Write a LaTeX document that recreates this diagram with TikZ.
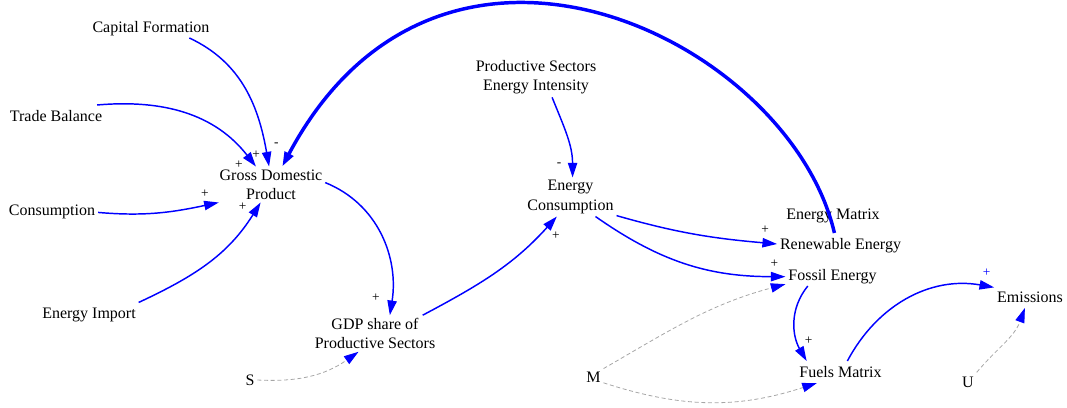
\documentclass[tikz,border=0pt]{standalone}
\usepackage{fontspec}
\setmainfont{Liberation Serif}
\usepackage{tikz}
\usetikzlibrary{arrows.meta}

\begin{document}
\begin{tikzpicture}[x=0.75pt, y=-0.75pt,
    var/.style={font=\fontsize{12}{14.5}\selectfont, inner sep=2pt, text height=10.5pt, text depth=1.6pt},
    mvar/.style={font=\fontsize{12}{14.5}\selectfont, inner sep=2pt, align=center},
    sign/.style={font=\fontsize{10}{12}\selectfont, inner sep=0pt},
    link/.style={draw=blue, line width=1.1pt, -{Triangle[length=11pt, width=7pt]}},
    loop/.style={link, line width=2.6pt},
    shadow/.style={draw=gray!70, line width=0.6pt, dash pattern=on 3pt off 2pt,
        -{Triangle[length=11pt, width=7pt, blue]}}]

    \useasboundingbox (0,0) rectangle (1067,407);

    % Economy side
    \node[var] (cap) at (151,27) {Capital Formation};
    \node[var] (trade) at (56,116) {Trade Balance};
    \node[mvar] (gdp) at (271,184.5) {Gross Domestic\\Product};
    \node[var] (cons) at (52,210) {Consumption};
    \node[var] (imp) at (89,313) {Energy Import};
    \node[mvar] (share) at (375,333.5) {GDP share of\\Productive Sectors};
    \node[var] (s) at (250,380) {S};

    % Energy side
    \node[mvar] (psei) at (536,77.5) {Productive Sectors\\Energy Intensity};
    \node[mvar] (econs) at (570.5,197) {Energy\\Consumption};
    \node[var] (matrix) at (833,214) {Energy Matrix};
    \node[var] (ren) at (840.5,244) {Renewable Energy};
    \node[var] (fossil) at (832.5,275) {Fossil Energy};
    \node[var] (fuels) at (840.5,372) {Fuels Matrix};
    \node[var] (m) at (593.5,377) {M};
    \node[var] (u) at (968,382) {U};
    \node[var] (emis) at (1030,297) {Emissions};

    % Links into GDP
    \draw[link] (cap.-16) to[out=-25, in=100] node[sign, pos=1, shift={(-13,-12)}] {+} (gdp.96);
    \draw[link] (trade.15) to[out=5, in=128] node[sign, pos=1, shift={(-17,-2)}] {+} (gdp.130);
    \draw[link] (cons.-3) to[out=-5, in=192] node[sign, pos=1, shift={(-14,-9)}] {+} (gdp.199);
    \draw[link] (imp.12) to[out=25, in=238] node[sign, pos=1, shift={(-18,4)}] {+} (gdp.240);

    % Feedback from renewables
    \draw[loop] (ren.119) to[out=103, in=62, out looseness=0.91, in looseness=1.56]
        node[sign, pos=1, shift={(-6,-22)}] {-} (gdp.58);

    % GDP to energy demand
    \draw[link] (gdp.2) to[out=-22, in=81] node[sign, pos=1, shift={(-14,-17)}] {+} (share.51);
    \draw[link] (share.21) to[out=28, in=228] node[sign, pos=1, shift={(-1,19)}] {+} (econs.235);
    \draw[link] (psei.-51) to[out=-68, in=90] node[sign, pos=1, shift={(-13.5,-13)}] {-} (econs.84);
    \draw[link] (econs.-22) to[out=-16, in=175] node[sign, pos=1, shift={(-12,-14)}] {+} (ren.180);
    \draw[link] (econs.-38) to[out=-35, in=180] node[sign, pos=1, shift={(-11,-13)}] {+} (fossil.182);
    \draw[link] (fossil.204) to[out=231, in=120] node[sign, pos=1, shift={(2,-20)}] {+} (fuels.162);
    \draw[link] (fuels.58) to[out=62, in=170] node[sign, pos=1, shift={(-7.5,-14.5)}, text=blue] {+} (emis.165);

    % Exogenous inputs
    \draw[shadow] (s.0) to[out=-3, in=215] (share.228);
    \draw[shadow] (m.40) to[out=30, in=195] (fossil.191);
    \draw[shadow] (m.-30) to[out=-18, in=198] (fuels.205);
    \draw[shadow] (u.48) to[out=50, in=250] (emis.245);

\end{tikzpicture}
\end{document}
